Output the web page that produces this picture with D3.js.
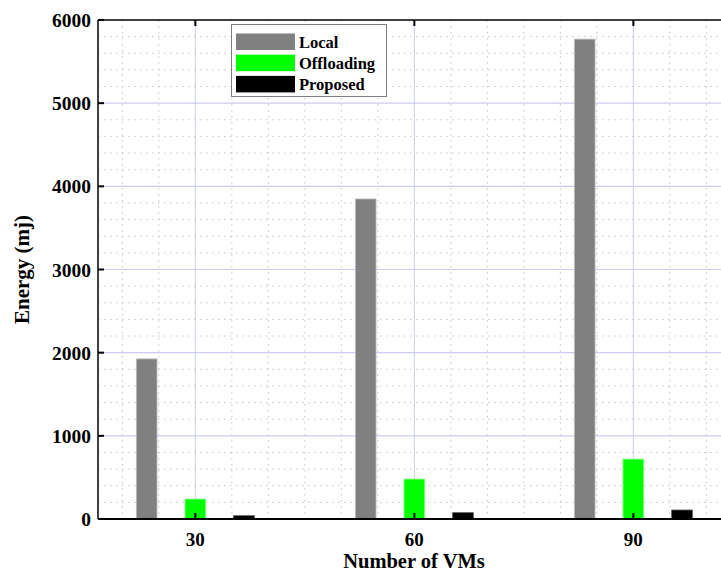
<!DOCTYPE html>
<html><head><meta charset="utf-8">
<script src="https://cdn.jsdelivr.net/npm/d3@7"></script>
<style>body{margin:0;background:#fff}svg{display:block}text{font-family:"Liberation Serif","Times New Roman",serif;font-weight:bold;fill:#000}</style>
</head><body><svg id="c" width="721" height="575"></svg>
<script>
const categories = [30, 60, 90];
const seriesNames = ["Local", "Offloading", "Proposed"];
const local = [1925, 3848, 5770];
const offloading = [240, 480, 720];
const proposed = [40, 76, 108];
const yTicks = [0, 1000, 2000, 3000, 4000, 5000, 6000];
const xTickLabels = ["30", "60", "90"];
const colors = ["#808080", "#00ff00", "#000000"];

const series = [local, offloading, proposed];
const svg = d3.select("#c");
const L = 98, T = 20, B = 519;
const x = d3.scaleLinear().domain([16.667, 103.333]).range([L, 730.7]);
const y = d3.scaleLinear().domain([0, 6000]).range([B, T]);
const R = x.range()[1];

// minor grid
const g = svg.append("g");
const minorX = d3.range(20, 105, 5).filter(v => v % 30 !== 0);
g.selectAll(".mx").data(minorX).join("line")
  .attr("x1", d => x(d)).attr("x2", d => x(d)).attr("y1", T).attr("y2", B)
  .attr("stroke", "#c4c4c4").attr("stroke-dasharray", "1.5,4.5").attr("stroke-width", 1);
const minorY = d3.range(200, 6000, 200).filter(v => v % 1000 !== 0);
g.selectAll(".my").data(minorY).join("line")
  .attr("x1", L).attr("x2", R).attr("y1", d => y(d)).attr("y2", d => y(d))
  .attr("stroke", "#c4c4c4").attr("stroke-dasharray", "1.5,4.5").attr("stroke-width", 1);
// major grid
g.selectAll(".Mx").data(categories).join("line")
  .attr("x1", d => x(d)).attr("x2", d => x(d)).attr("y1", T).attr("y2", B)
  .attr("stroke", "#ccccf5").attr("stroke-width", 1);
g.selectAll(".My").data(yTicks.slice(1, -1)).join("line")
  .attr("x1", L).attr("x2", R).attr("y1", d => y(d)).attr("y2", d => y(d))
  .attr("stroke", "#ccccf5").attr("stroke-width", 1.2);

// bars
const sub = d3.scaleBand().domain(seriesNames).range([-10, 10]).paddingInner(0.575).paddingOuter(0.2875);
seriesNames.forEach((name, si) => {
  svg.append("g").selectAll("rect").data(categories).join("rect")
    .attr("x", (c) => x(c + sub(name)))
    .attr("width", x(categories[0] + sub(name) + sub.bandwidth()) - x(categories[0] + sub(name)))
    .attr("y", (c, i) => y(series[si][i]))
    .attr("height", (c, i) => B - y(series[si][i]))
    .attr("fill", colors[si])
    .attr("stroke", si === 0 ? "#bdbdbd" : (si === 1 ? "#80ff80" : "#555"))
    .attr("stroke-width", 0.8);
});

// axes lines
svg.append("line").attr("x1", L).attr("x2", R).attr("y1", B).attr("y2", B).attr("stroke", "#000").attr("stroke-width", 2);
svg.append("line").attr("x1", L).attr("x2", R).attr("y1", T).attr("y2", T).attr("stroke", "#000").attr("stroke-width", 1.5);
svg.append("line").attr("x1", L).attr("x2", L).attr("y1", T).attr("y2", B).attr("stroke", "#000").attr("stroke-width", 1.5);

// ticks
svg.append("g").selectAll("line").data(yTicks).join("line")
  .attr("x1", L).attr("x2", L + 6).attr("y1", d => y(d)).attr("y2", d => y(d)).attr("stroke", "#000").attr("stroke-width", 2);
svg.append("g").selectAll("line").data(categories).join("line")
  .attr("x1", d => x(d)).attr("x2", d => x(d)).attr("y1", B).attr("y2", B - 6).attr("stroke", "#000").attr("stroke-width", 2);
svg.append("g").selectAll("line").data(categories).join("line")
  .attr("x1", d => x(d)).attr("x2", d => x(d)).attr("y1", T).attr("y2", T + 6).attr("stroke", "#000").attr("stroke-width", 2);

// tick labels
svg.append("g").selectAll("text").data(yTicks).join("text")
  .attr("x", L - 7).attr("y", d => y(d) + 7).attr("text-anchor", "end")
  .style("font-size", "19.5px").text(d => d);
svg.append("g").selectAll("text").data(categories).join("text")
  .attr("x", d => x(d)).attr("y", 545.5).attr("text-anchor", "middle")
  .style("font-size", "19px").text((d, i) => xTickLabels[i]);

// axis titles
svg.append("text").attr("x", 414).attr("y", 568).attr("text-anchor", "middle")
  .style("font-size", "20.5px").text("Number of VMs");
svg.append("text").attr("transform", `translate(29,${(T + B) / 2}) rotate(-90)`).attr("text-anchor", "middle")
  .style("font-size", "21px").text("Energy (mj)");

// legend
const lg = svg.append("g");
lg.append("rect").attr("x", 231.5).attr("y", 24.5).attr("width", 155).attr("height", 72)
  .attr("fill", "#fff").attr("stroke", "#7f7f7f").attr("stroke-width", 1);
seriesNames.forEach((n, i) => {
  const yy = 33.5 + i * 21.2;
  lg.append("rect").attr("x", 236).attr("y", yy).attr("width", 59).attr("height", 16.5).attr("fill", colors[i]);
  lg.append("text").attr("x", 299).attr("y", yy + 14).style("font-size", "16.5px").text(n);
});
</script></body></html>
